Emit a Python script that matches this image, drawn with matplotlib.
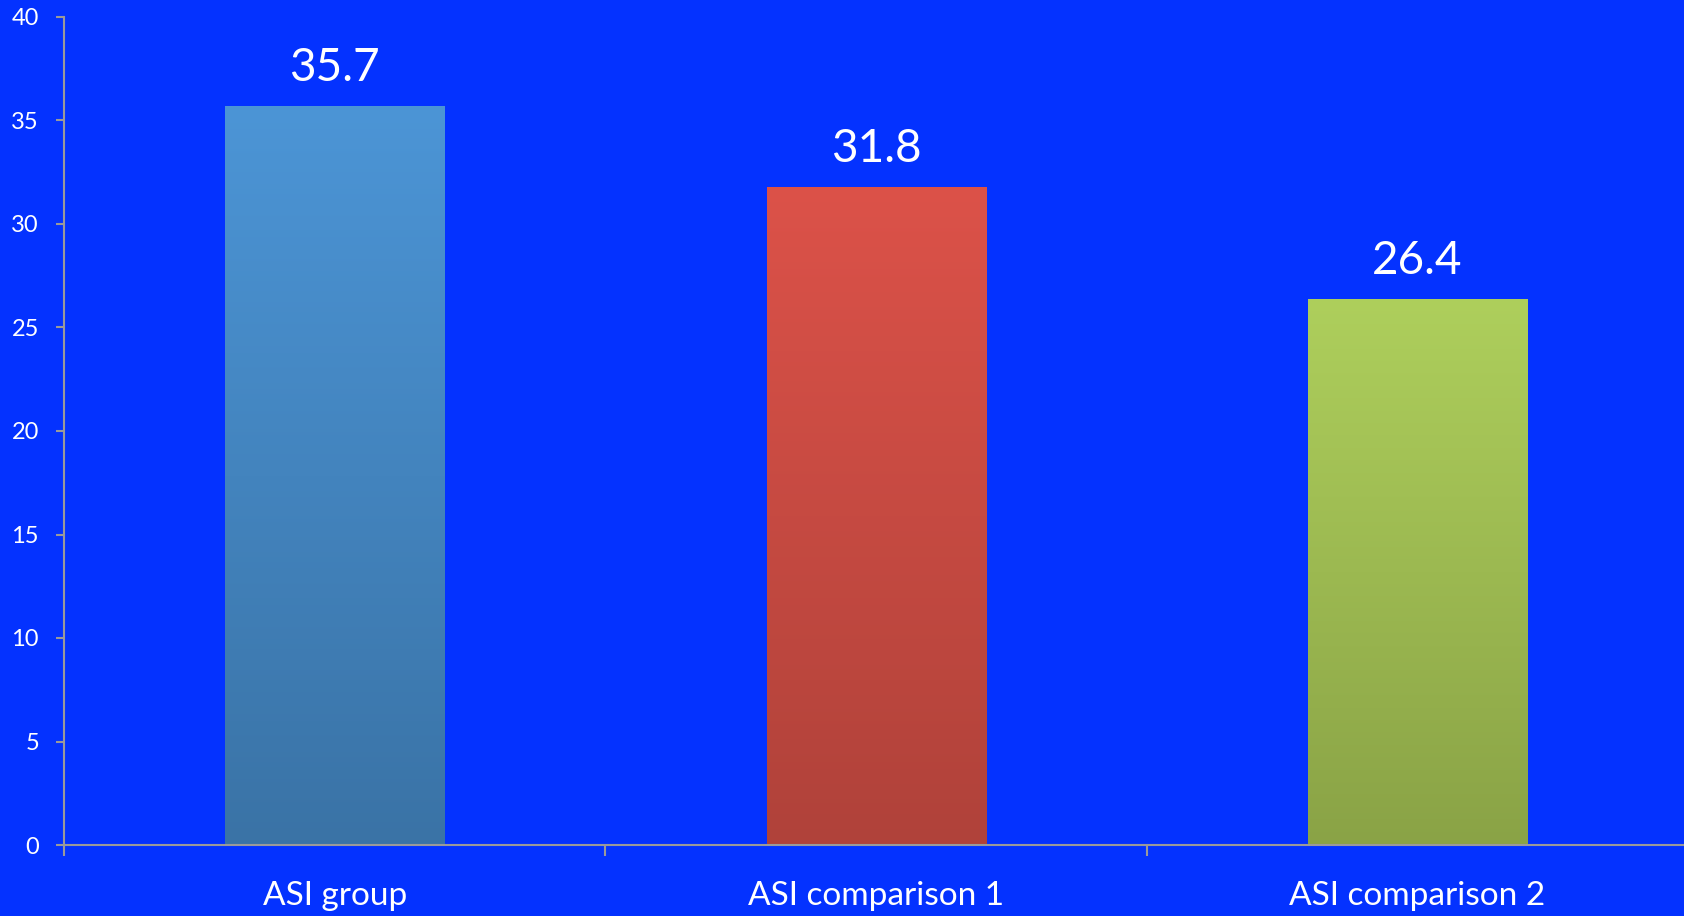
import numpy as np
import matplotlib.pyplot as plt
from matplotlib.colors import LinearSegmentedColormap

categories = ['ASI group', 'ASI comparison 1', 'ASI comparison 2']
values = [35.7, 31.8, 26.4]
y_ticks = [0, 5, 10, 15, 20, 25, 30, 35, 40]

# top / bottom colour of each bar's vertical gradient
bar_tops = ['#4C95D6', '#DC5249', '#AECF5C']
bar_bottoms = ['#3A73A6', '#B0423A', '#8AA346']

bg = '#0432FF'
axis_grey = '#9A9A9A'

plt.rcParams['font.family'] = ['Lato', 'DejaVu Sans']

fig = plt.figure(figsize=(16.84, 9.16), dpi=100, facecolor=bg)
ax = fig.add_axes([64 / 1684, 1 - 845 / 916, 1 - 64 / 1684, (845 - 17) / 916])
ax.set_facecolor(bg)

x = np.arange(len(categories))
bars = ax.bar(x, values, width=0.405, color='none', edgecolor='none', zorder=2)

grad = np.linspace(0, 1, 256).reshape(-1, 1)
for bar, top, bottom in zip(bars, bar_tops, bar_bottoms):
    cmap = LinearSegmentedColormap.from_list('g', [bottom, top])
    x0, y0 = bar.get_x(), bar.get_y()
    w, h = bar.get_width(), bar.get_height()
    im = ax.imshow(grad, cmap=cmap, aspect='auto', origin='lower',
                   extent=[x0, x0 + w, y0, y0 + h], zorder=2)
    im.set_clip_path(bar)

for xi, v in zip(x, values):
    ax.annotate(f'{v:.1f}', (xi, v), xytext=(0, 18), textcoords='offset points',
                ha='center', va='baseline', color='white', fontsize=33)

# plot area runs a little past the right edge of the figure
ax.set_xlim(-0.5, 2.492)
ax.set_ylim(0, 40)
ax.set_yticks(y_ticks)
ax.set_xticks(x)
ax.set_xticklabels(categories)
ax.set_xticks([-0.5, 0.5, 1.5], minor=True)

for side in ['top', 'right']:
    ax.spines[side].set_visible(False)
for side in ['left', 'bottom']:
    ax.spines[side].set_color(axis_grey)
    ax.spines[side].set_linewidth(1.5)

ax.tick_params(axis='y', colors=axis_grey, labelcolor='white', labelsize=17,
               length=6, width=1.5, pad=12)
ax.tick_params(axis='x', which='major', length=0, labelcolor='white',
               labelsize=24, pad=26)
ax.tick_params(axis='x', which='minor', colors=axis_grey, length=8, width=1.5)

fig.savefig('out.png', dpi=100, facecolor=bg)
